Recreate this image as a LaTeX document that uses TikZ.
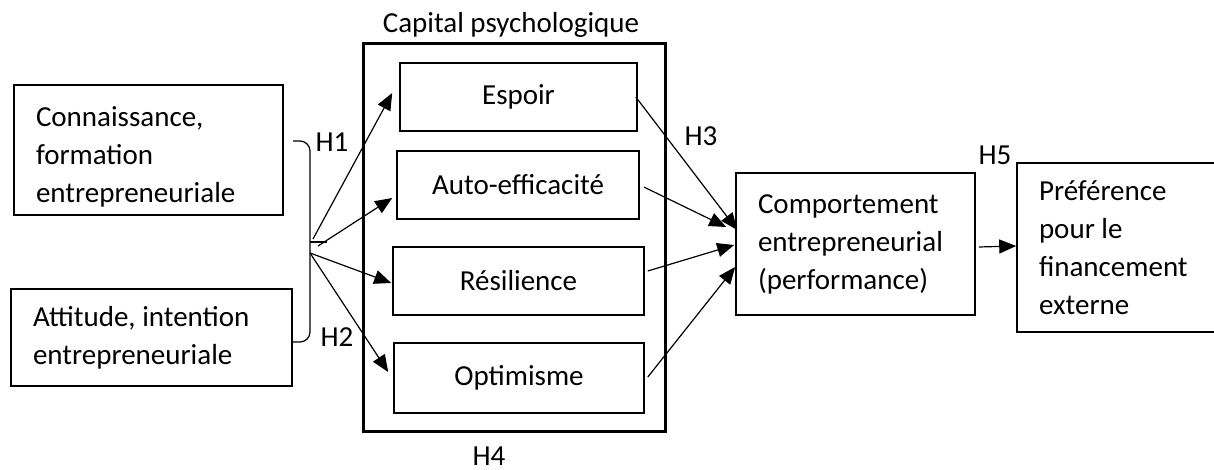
\documentclass[tikz,border=0pt]{standalone}
\usepackage{fontspec}
\setmainfont{Carlito}
\usetikzlibrary{calc,arrows.meta}

\begin{document}
\begin{tikzpicture}[x=0.5pt, y=-0.5pt, >={Triangle[length=8.5pt, width=7pt]},
  every node/.style={font=\fontsize{14.5}{19}\selectfont},
  box/.style={draw, line width=0.8pt, inner sep=0pt},
  textbox/.style={box, align=flush left, inner xsep=11pt},
  dimbox/.style={box, minimum height=34pt},
  link/.style={->, line width=0.6pt}]
  \useasboundingbox (0,0) rectangle (1214,470);

  % Antecedents
  \node[textbox, text width=112.5pt, minimum height=65pt] (know) at (148.5,150) {\rule{0pt}{16.5pt}Connaissance,\\ formation\\ entrepreneuriale};
  \node[textbox, text width=118.5pt, minimum height=48.5pt] (att) at (151.5,337.5) {Attitude, intention\\ entrepreneuriale};

  % Brace grouping both antecedents
  \draw[line width=0.6pt, rounded corners=5pt] (293,141) -- (310,141) -- (310,342) -- (293,342);
  \draw[line width=0.6pt] (310,242) -- (327,242);
  \coordinate (src1) at (313,239);
  \coordinate (src2) at (318,246);
  \coordinate (src3) at (310,253);
  \node (h1) at (332,142) {H1};
  \node (h2) at (337,337) {H2};

  % Capital psychologique and its dimensions
  \node[draw, line width=1.5pt, minimum width=151pt, minimum height=193.5pt] (cap) at (514,237.5) {};
  \node (captitle) at (511,25) {Capital psychologique};
  \node[dimbox, minimum width=118.5pt] (esp) at (518.5,97) {Espoir};
  \node[dimbox, minimum width=121pt] (auto) at (518,185) {Auto-efficacité};
  \node[dimbox, minimum width=125.5pt] (res) at (518.5,281) {Résilience};
  \node[dimbox, minimum width=125pt, minimum height=35pt] (opt) at (519,378) {Optimisme};
  \node[inner sep=0pt] (h4) at (489,456) {H4};

  % Outcomes
  \node[textbox, text width=97.5pt, minimum height=71pt] (comp) at (855.5,244) {Comportement\\ entrepreneurial\\ (performance)};
  \node[textbox, text width=82pt, minimum height=84.5pt] (pref) at (1121,247.5) {Préférence\\ pour le\\ financement\\ externe};
  \node (h3) at (701,136) {H3};
  \node (h5) at (995,155) {H5};

  % H1, H2 links
  \draw[link] (src1) -- ([xshift=-3.5pt, yshift=2pt]esp.west);
  \draw[link] (src2) -- ([xshift=-2pt, yshift=-6.5pt]auto.west);
  \draw[link] (src3) -- ([xshift=-0.5pt, yshift=-1pt]res.west);
  \draw[link] (src3) -- ([xshift=-2.5pt, yshift=3pt]opt.west);

  % H3 links
  \draw[link] ([xshift=-1pt]esp.east) -- ([xshift=1pt, yshift=7pt]comp.west);
  \draw[link] ([xshift=2pt, yshift=-1pt]auto.east) -- ([xshift=-4.5pt, yshift=8.5pt]comp.west);
  \draw[link] ([xshift=1.5pt, yshift=5pt]res.east) -- ([xshift=-0.5pt, yshift=-0.5pt]comp.west);
  \draw[link] ([xshift=1.5pt, yshift=0.5pt]opt.east) -- ([yshift=-11.5pt]comp.west);

  % H5 link
  \draw[link] ([xshift=1.5pt, yshift=-1.5pt]comp.east) -- ([yshift=0.75pt]pref.west);
\end{tikzpicture}
\end{document}
